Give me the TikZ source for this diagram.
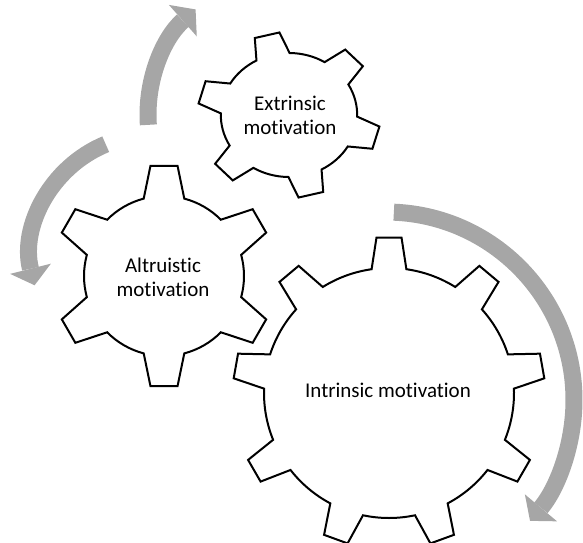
\documentclass[tikz,border=0pt]{standalone}
\usepackage{fontspec}
\setmainfont{Carlito}[Ligatures=NoCommon]
\usetikzlibrary{arrows.meta}
\definecolor{arrowgray}{RGB}{166,166,166}

% gear outline: [options]{centre}{teeth}{root r}{tip r}{base half-angle}{tip half-angle}{first tooth}
\newcommand{\drawgear}[8][]{%
  \begin{scope}[shift={(#2)},#1]
    \pgfmathsetmacro{\gstep}{360/#3}
    \draw[gearline] ({#8-#6}:#4)
      \foreach \k in {1,...,#3}{
        -- ({#8+(\k-1)*\gstep-#7}:#5) -- ({#8+(\k-1)*\gstep+#7}:#5)
        -- ({#8+(\k-1)*\gstep+#6}:#4)
        arc[start angle={#8+(\k-1)*\gstep+#6}, end angle={#8+\k*\gstep-#6}, radius=#4]
      } -- cycle;
  \end{scope}}

\begin{document}
\begin{tikzpicture}[x=1pt,y=1pt,
    gearline/.style={draw=black, line width=2pt, fill=white, line join=miter},
    turn/.style={draw=arrowgray, line width=17pt,
      -{Triangle[width=42pt,length=17pt,line width=0pt]}},
    gearlabel/.style={align=center, font=\fontsize{21}{24}\selectfont}]
    \useasboundingbox (0,0) rectangle (583,542);

    \coordinate (ext) at (289,427);
    \coordinate (alt) at (164,266);
    \coordinate (intr) at (389,149);
    \coordinate (pivL) at (152,286);
    \coordinate (pivR) at (386,142);

    % turning arrows
    \draw[turn] ([shift={(184:141)}]ext) arc[start angle=184, end angle=131.5, radius=141];
    \draw[turn] ([shift={(112.5:121)}]pivL) arc[start angle=112.5, end angle=194, radius=121];
    \draw[turn] ([shift={(87.6:188)}]pivR) arc[start angle=87.6, end angle=-40, radius=188];

    % gears
    \drawgear[xscale=1.1]{ext}{6}{62}{83}{14.5}{8}{104}
    \drawgear{alt}{6}{80}{111}{14.7}{7}{90}
    \drawgear{intr}{9}{125}{156}{8}{4.6}{90}

    \node[gearlabel] (extlbl) at (290,427) {Extrinsic\\motivation};
    \node[gearlabel] (altlbl) at (163,265) {Altruistic\\motivation};
    \node[gearlabel] (intrlbl) at (388,152) {Intrinsic motivation};
\end{tikzpicture}
\end{document}
